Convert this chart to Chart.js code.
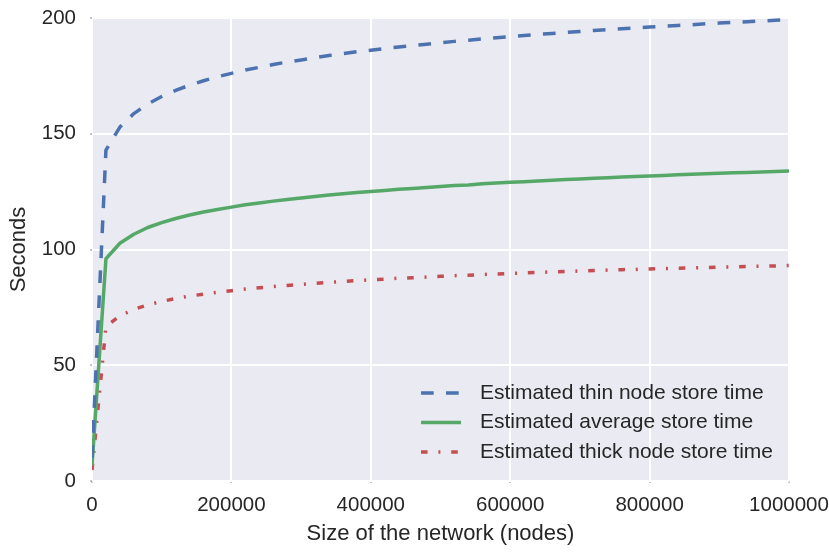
<!DOCTYPE html>
<html>
<head>
<meta charset="utf-8">
<script src="https://cdn.jsdelivr.net/npm/chart.js@4"></script>
<style>
	html, body { margin: 0; padding: 0; background: #fff; }
	#wrap { width: 829px; height: 552px; }
</style>
</head>
<body>
<div id="wrap"><canvas id="chart" width="829" height="552"></canvas></div>
<script>
// network size (nodes) and estimated store times (seconds)
const networkSizes = [2, 20000, 40000, 60000, 80000, 100000, 120000, 140000, 160000, 180000, 200000,
	220000, 240000, 260000, 280000, 300000, 320000, 340000, 360000, 380000, 400000,
	420000, 440000, 460000, 480000, 500000, 520000, 540000, 560000, 580000, 600000,
	620000, 640000, 660000, 680000, 700000, 720000, 740000, 760000, 780000, 800000,
	820000, 840000, 860000, 880000, 900000, 920000, 940000, 960000, 980000, 1000000];

const thinTimes = [10, 142.9, 152.9, 158.7, 162.9, 166.1, 168.7, 171.0, 172.9, 174.6, 176.1,
	177.5, 178.7, 179.9, 181.0, 181.9, 182.9, 183.8, 184.6, 185.4, 186.1,
	186.8, 187.5, 188.1, 188.7, 189.3, 189.9, 190.4, 191.0, 191.5, 191.9,
	192.4, 192.9, 193.3, 193.8, 194.2, 194.6, 195.0, 195.4, 195.7, 196.1,
	196.5, 196.8, 197.1, 197.5, 197.8, 198.1, 198.4, 198.7, 199.0, 199.3];

const averageTimes = [6.7, 96.0, 102.7, 106.6, 109.5, 111.6, 113.4, 114.9, 116.2, 117.3, 118.3,
	119.3, 120.1, 120.9, 121.6, 122.2, 122.9, 123.5, 124.1, 124.6, 125.1,
	125.5, 126.0, 126.4, 126.8, 127.2, 127.6, 127.9, 128.4, 128.7, 129.0,
	129.3, 129.6, 129.9, 130.2, 130.5, 130.8, 131.0, 131.3, 131.5, 131.8,
	132.0, 132.3, 132.5, 132.7, 132.9, 133.1, 133.3, 133.5, 133.7, 133.9];

const thickTimes = [4.7, 66.7, 71.4, 74.1, 76.1, 77.6, 78.8, 79.9, 80.7, 81.5, 82.2,
	82.9, 83.5, 84.0, 84.5, 84.9, 85.4, 85.8, 86.2, 86.6, 86.9,
	87.2, 87.6, 87.8, 88.1, 88.4, 88.7, 88.9, 89.2, 89.4, 89.6,
	89.9, 90.1, 90.3, 90.5, 90.7, 90.9, 91.1, 91.3, 91.4, 91.6,
	91.8, 91.9, 92.0, 92.2, 92.4, 92.5, 92.7, 92.8, 92.9, 93.1];

const seriesLabels = [`Estimated thin node store time`, `Estimated average store time`, `Estimated thick node store time`];
const xTicks = [0, 200000, 400000, 600000, 800000, 1000000];
const yTicks = [0, 50, 100, 150, 200];

const FONT = `"Liberation Sans", Arial, Helvetica, sans-serif`;
const TEXT = `#262626`;

const toPoints = ys => ys.map((y, i) => ({x: networkSizes[i], y}));

// seaborn style grey panel
const panelBg = {
	id: `panelBg`,
	beforeDraw(chart) {
		const {ctx, chartArea: a} = chart;
		ctx.save();
		ctx.fillStyle = `#EAEAF2`;
		ctx.fillRect(a.left, a.top, a.right - a.left, a.bottom - a.top);
		ctx.restore();
	}
};

// legend drawn inside the plot, lower right
const innerLegend = {
	id: `innerLegend`,
	afterDatasetsDraw(chart) {
		const {ctx} = chart;
		const x0 = 421, handleLen = 40, textX = 480;
		const rows = [393, 422.5, 452];
		ctx.save();
		chart.data.datasets.forEach((ds, i) => {
			const y = rows[i];
			ctx.strokeStyle = ds.borderColor;
			ctx.lineWidth = ds.borderWidth;
			ctx.lineCap = `butt`;
			ctx.setLineDash(ds.borderDash || []);
			ctx.beginPath();
			ctx.moveTo(x0, y);
			ctx.lineTo(x0 + handleLen, y);
			ctx.stroke();
			ctx.setLineDash([]);
			ctx.fillStyle = TEXT;
			ctx.font = `21px ${FONT}`;
			ctx.textBaseline = `middle`;
			ctx.textAlign = `left`;
			ctx.fillText(ds.label, textX, y);
		});
		ctx.restore();
	}
};

new Chart(document.getElementById(`chart`), {
	type: `line`,
	data: {
		datasets: [{
			label: seriesLabels[0],
			data: toPoints(thinTimes),
			borderColor: `#4C72B0`,
			borderWidth: 3.5,
			borderDash: [12.7, 12.3]
		}, {
			label: seriesLabels[1],
			data: toPoints(averageTimes),
			borderColor: `#55A868`,
			borderWidth: 3.5
		}, {
			label: seriesLabels[2],
			data: toPoints(thickTimes),
			borderColor: `#C44E52`,
			borderWidth: 3.5,
			borderDash: [6.6, 10.8, 2, 10.8]
		}]
	},
	options: {
		responsive: false,
		animation: false,
		elements: {
			point: {radius: 0},
			line: {tension: 0, fill: false, borderCapStyle: `butt`, borderJoinStyle: `round`}
		},
		layout: {padding: {top: 18, right: 40, left: 0, bottom: 0}},
		plugins: {
			legend: {display: false},
			tooltip: {enabled: false}
		},
		scales: {
			x: {
				type: `linear`,
				min: 0,
				max: 1000000,
				afterFit(scale) {
					scale.height = 71;
					scale.paddingLeft = 0;
					scale.paddingRight = 0;
				},
				afterBuildTicks(scale) { scale.ticks = xTicks.map(value => ({value})); },
				border: {display: false},
				grid: {color: `#ffffff`, lineWidth: 2, tickLength: 2, tickWidth: 1, tickColor: `#8a8a8a`},
				ticks: {
					color: TEXT,
					padding: 10,
					maxRotation: 0,
					font: {family: FONT, size: 20.5},
					callback: v => String(v)
				},
				title: {
					display: true,
					text: `Size of the network (nodes)`,
					color: TEXT,
					font: {family: FONT, size: 22},
					padding: {top: 0, bottom: 4.5}
				}
			},
			y: {
				min: 0,
				max: 200,
				afterFit(scale) {
					scale.width = 92;
					scale.paddingTop = 0;
					scale.paddingBottom = 0;
				},
				afterBuildTicks(scale) { scale.ticks = yTicks.map(value => ({value})); },
				border: {display: false},
				grid: {color: `#ffffff`, lineWidth: 2, tickLength: 2, tickWidth: 1, tickColor: `#8a8a8a`},
				ticks: {
					color: TEXT,
					padding: 14,
					font: {family: FONT, size: 20.5},
					callback: v => String(v)
				},
				title: {
					display: true,
					text: `Seconds`,
					color: TEXT,
					font: {family: FONT, size: 22},
					padding: {top: 6, bottom: 0}
				}
			}
		}
	},
	plugins: [panelBg, innerLegend]
});
</script>
</body>
</html>
